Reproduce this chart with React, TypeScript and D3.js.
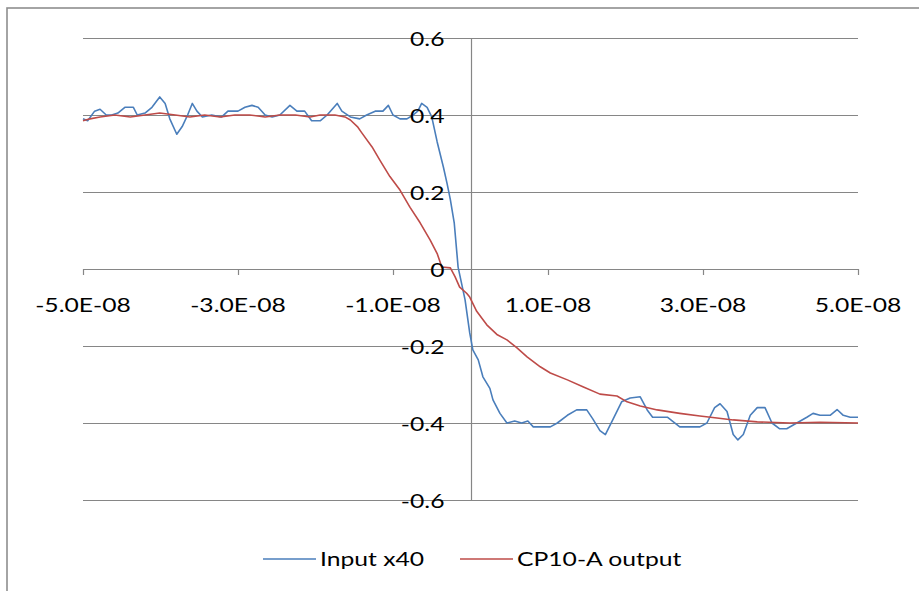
import React, { useEffect, useRef } from 'react'
import * as d3 from 'd3'

// time in ns (axis shows seconds), values in V
const inputTime = [
  -50.0, -49.4, -48.5, -47.8, -47.0, -46.3, -45.5, -44.6, -43.5, -43.0, -42.0, -41.1, -40.1, -39.4,
  -38.8, -37.9, -37.2, -36.5, -35.9, -35.3, -34.6, -33.4, -32.1, -31.3, -30.0, -29.1, -28.2, -27.4,
  -26.5, -25.6, -24.6, -23.3, -22.4, -21.4, -20.5, -19.4, -18.5, -17.2, -16.6, -15.5, -14.3, -13.4,
  -12.3, -11.3, -10.6, -10.0, -9.1, -8.2, -7.4, -6.8, -6.3, -5.6, -5.0, -4.3, -3.5, -3.0, -2.6, -2.1,
  -1.6, -0.7, -0.1, 0.3, 1.0, 1.6, 2.5, 2.9, 3.8, 4.7, 5.7, 6.6, 7.4, 8.1, 10.3, 11.2, 12.5, 13.7,
  15.0, 15.8, 16.7, 17.4, 18.4, 19.5, 20.6, 21.9, 22.8, 23.5, 25.4, 27.0, 29.6, 30.5, 31.5, 32.2,
  33.1, 33.9, 34.5, 35.2, 36.1, 37.0, 38.0, 38.9, 39.9, 40.8, 42.1, 43.4, 44.2, 45.1, 46.4, 47.3,
  48.1, 49.0, 50.0,
]
const inputValue = [
  0.39, 0.385, 0.41, 0.415, 0.4, 0.4, 0.405, 0.42, 0.42, 0.4, 0.405, 0.42, 0.447, 0.43,
  0.39, 0.35, 0.37, 0.4, 0.43, 0.41, 0.395, 0.4, 0.395, 0.41, 0.41, 0.42, 0.425, 0.42,
  0.4, 0.395, 0.4, 0.425, 0.41, 0.41, 0.385, 0.385, 0.4, 0.43, 0.41, 0.395, 0.39, 0.4,
  0.41, 0.41, 0.425, 0.4, 0.39, 0.39, 0.4, 0.41, 0.43, 0.42, 0.395, 0.33, 0.265, 0.22, 0.18, 0.12,
  0.005, -0.08, -0.166, -0.21, -0.236, -0.28, -0.31, -0.34, -0.375, -0.4, -0.395, -0.4, -0.395, -0.41, -0.41, -0.4, -0.38, -0.366,
  -0.366, -0.39, -0.42, -0.43, -0.39, -0.345, -0.335, -0.332, -0.366, -0.385, -0.385, -0.41, -0.41, -0.4, -0.36, -0.35,
  -0.37, -0.43, -0.444, -0.43, -0.38, -0.36, -0.36, -0.4, -0.415, -0.415, -0.4, -0.385, -0.375, -0.38, -0.38, -0.365,
  -0.38, -0.385, -0.385,
]

const outputTime = [
  -50.0, -49.1, -47.8, -45.9, -43.9, -42.0, -40.1, -38.1, -36.2, -34.3, -32.3, -30.4, -28.5, -26.5,
  -24.6, -22.6, -20.7, -19.4, -17.5, -16.2, -15.5, -14.6, -14.0, -12.7, -11.7, -10.4, -9.1, -7.8,
  -6.5, -5.2, -4.3, -3.7, -2.6, -2.0, -1.4, -0.5, -0.1, 0.8, 2.1, 3.4, 4.7, 6.0, 7.3, 9.0, 10.3,
  12.5, 14.5, 16.7, 18.9, 20.2, 21.9, 24.1, 27.0, 29.6, 31.8, 33.9, 37.0, 41.2, 45.1, 50.0,
]
const outputValue = [
  0.385, 0.39, 0.395, 0.4, 0.395, 0.4, 0.405, 0.4, 0.395, 0.4, 0.395, 0.4, 0.4, 0.395,
  0.4, 0.4, 0.395, 0.4, 0.4, 0.395, 0.387, 0.37, 0.353, 0.317, 0.283, 0.24, 0.205, 0.16,
  0.12, 0.075, 0.04, 0.005, 0.003, -0.02, -0.047, -0.063, -0.073, -0.11, -0.145, -0.17, -0.184, -0.205, -0.228, -0.254, -0.27,
  -0.288, -0.306, -0.325, -0.33, -0.345, -0.356, -0.366, -0.375, -0.382, -0.387, -0.392, -0.397, -0.4, -0.398, -0.4,
]

const xTicks = [-50, -30, -10, 10, 30, 50]
const xTickLabels = ['-5.0E-08', '-3.0E-08', '-1.0E-08', '1.0E-08', '3.0E-08', '5.0E-08']
const yTicks = [0.6, 0.4, 0.2, 0, -0.2, -0.4, -0.6]
const yTickLabels = ['0.6', '0.4', '0.2', '0', '-0.2', '-0.4', '-0.6']
const seriesNames = ['Input x40', 'CP10-A output']
const seriesColors = ['#4a7ebb', '#be4b48']

const W = 919
const H = 591
const FONT = 'Lato, "Liberation Sans", sans-serif'
const STRETCH = 1.3 // text in the picture is wider than tall

export default function App() {
  const ref = useRef<SVGSVGElement>(null)

  useEffect(() => {
    const svg = d3.select(ref.current)
    svg.selectAll('*').remove()

    const x = d3.scaleLinear().domain([-50, 50]).range([83, 858])
    const y = d3.scaleLinear().domain([-0.6, 0.6]).range([500, 38])

    // chart frame
    svg.append('rect')
      .attr('x', 7).attr('y', 8)
      .attr('width', W + 20).attr('height', H + 20)
      .attr('fill', '#fff')
      .attr('stroke', '#8e8e8e')
      .attr('stroke-width', 1.6)

    const g = svg.append('g')

    // horizontal gridlines
    g.selectAll('.grid')
      .data(yTicks)
      .enter()
      .append('line')
      .attr('x1', x(-50)).attr('x2', x(50))
      .attr('y1', d => Math.round(y(d)) + 0.5)
      .attr('y2', d => Math.round(y(d)) + 0.5)
      .attr('stroke', '#868686')
      .attr('stroke-width', 1.2)

    // vertical axis at t = 0
    g.append('line')
      .attr('x1', Math.round(x(0)) + 0.5).attr('x2', Math.round(x(0)) + 0.5)
      .attr('y1', y(0.6)).attr('y2', y(-0.6))
      .attr('stroke', '#868686')
      .attr('stroke-width', 1.2)

    // x tick marks
    g.selectAll('.xtick')
      .data(xTicks)
      .enter()
      .append('line')
      .attr('x1', d => Math.round(x(d)) + 0.5)
      .attr('x2', d => Math.round(x(d)) + 0.5)
      .attr('y1', y(0)).attr('y2', y(0) + 6)
      .attr('stroke', '#868686')
      .attr('stroke-width', 1.2)

    const label = (sel: any) => sel
      .attr('font-family', FONT)
      .attr('font-size', 19)
      .attr('fill', '#000')

    // x labels
    g.selectAll('.xlabel')
      .data(xTicks)
      .enter()
      .append('text')
      .call(label)
      .attr('text-anchor', 'middle')
      .attr('transform', d => `translate(${x(d)},${y(0) + 43}) scale(${STRETCH},1)`)
      .text((d, i) => xTickLabels[i])

    // series
    const series = [
      { t: inputTime, v: inputValue },
      { t: outputTime, v: outputValue },
    ]
    const line = d3.line<number>()
      .x(d => x(d))
    series.forEach((s, k) => {
      const l = d3.line<number>()
        .x(d => x(d))
        .y((d, i) => y(s.v[i]))
      g.append('path')
        .attr('d', l(s.t))
        .attr('fill', 'none')
        .attr('stroke', seriesColors[k])
        .attr('stroke-width', 1.6)
        .attr('stroke-linejoin', 'round')
    })

    // y labels (drawn over the lines)
    g.selectAll('.ylabel')
      .data(yTicks)
      .enter()
      .append('text')
      .call(label)
      .attr('text-anchor', 'end')
      .attr('dominant-baseline', 'central')
      .attr('transform', d => `translate(${x(0) - 26},${y(d) + 1}) scale(${STRETCH},1)`)
      .text((d, i) => yTickLabels[i])

    // legend
    const legendX = [263, 460]
    const legend = g.selectAll('.legend')
      .data(seriesNames)
      .enter()
      .append('g')
      .attr('transform', (d, i) => `translate(${legendX[i]},559)`)
    legend.append('line')
      .attr('x1', 0).attr('x2', 53)
      .attr('stroke', (d, i) => seriesColors[i])
      .attr('stroke-width', 1.6)
    legend.append('text')
      .call(label)
      .attr('dominant-baseline', 'central')
      .attr('transform', `translate(57,0) scale(${STRETCH},1)`)
      .text(d => d)
  }, [])

  return (
    <svg
      ref={ref}
      width={W}
      height={H}
      style={{ position: 'absolute', left: 0, top: 0, background: '#fff' }}
    />
  )
}
